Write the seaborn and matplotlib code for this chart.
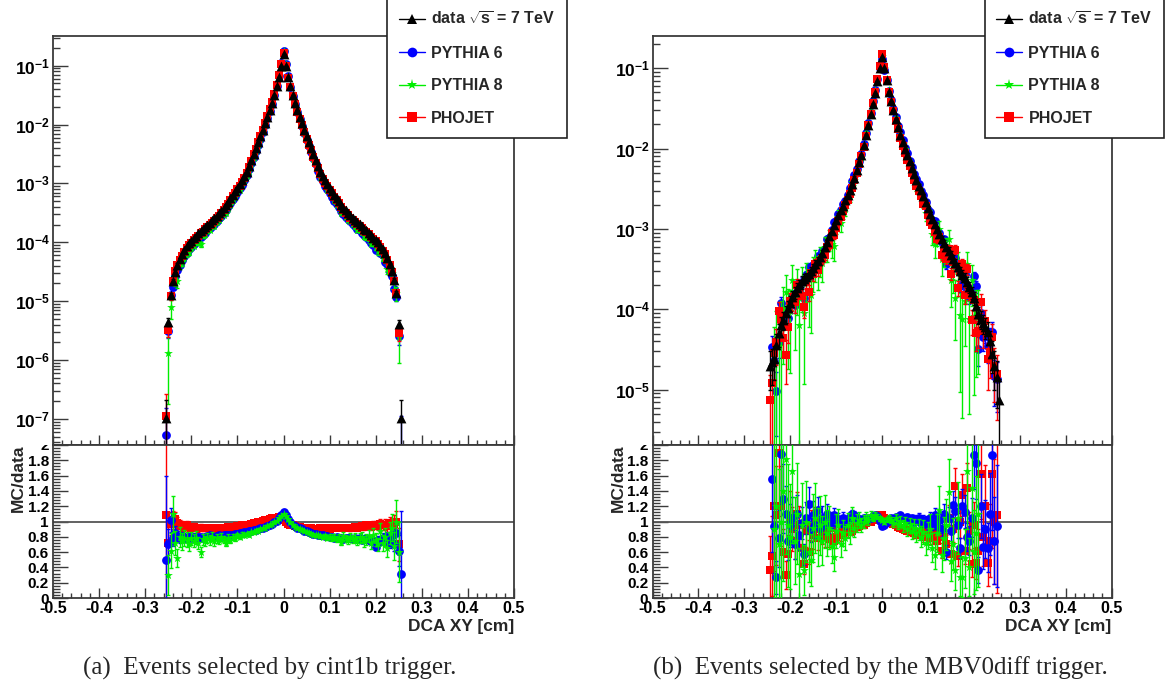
import numpy as np
import matplotlib
matplotlib.use("Agg")
import matplotlib.pyplot as plt
from matplotlib.ticker import MultipleLocator, FuncFormatter, LogLocator, NullFormatter
from matplotlib.lines import Line2D
from matplotlib.transforms import Bbox, TransformedBbox
import seaborn as sns

# ---------------- data ----------------
# DCA XY bin centres [cm]
bin_index = np.arange(-51, 52)
bin_centers = np.round(bin_index * 0.005, 3)

series = ["data", "PYTHIA 6", "PYTHIA 8", "PHOJET"]
legend_labels = [r"data $\mathbf{\sqrt{s}}$ = 7 TeV", "PYTHIA 6", "PYTHIA 8", "PHOJET"]
nan = float("nan")

# (a) cint1b: log10 of normalised data distribution
a_data_log10 = [
    -6.98, -5.35, -4.90, -4.66, -4.50, -4.38, -4.28, -4.20, -4.13, -4.07,
    -4.01, -3.97, -3.93, -3.89, -3.85, -3.81, -3.78, -3.74, -3.70, -3.67,
    -3.63, -3.59, -3.55, -3.51, -3.47, -3.42, -3.36, -3.31, -3.25, -3.19,
    -3.13, -3.07, -3.01, -2.95, -2.88, -2.80, -2.70, -2.60, -2.50, -2.40,
    -2.30, -2.20, -2.09, -1.98, -1.87, -1.75, -1.63, -1.50, -1.35, -1.19,
    -1.00,
    -0.80,
    -1.00, -1.19, -1.35, -1.50, -1.63, -1.75, -1.87, -1.98, -2.09, -2.20,
    -2.30, -2.40, -2.50, -2.60, -2.70, -2.80, -2.88, -2.95, -3.01, -3.07,
    -3.13, -3.19, -3.25, -3.30, -3.36, -3.41, -3.46, -3.50, -3.54, -3.58,
    -3.62, -3.66, -3.69, -3.73, -3.77, -3.80, -3.84, -3.88, -3.92, -3.96,
    -4.00, -4.06, -4.12, -4.19, -4.27, -4.37, -4.49, -4.64, -4.86, -5.39,
    -6.98,
]
a_ratio_pythia6 = [
    0.50, 0.70, 1.02, 0.78, 0.85, 0.80, 0.78, 0.80, 0.79, 0.78,
    0.80, 0.79, 0.80, 0.79, 0.80, 0.80, 0.79, 0.80, 0.81, 0.82,
    0.81, 0.80, 0.81, 0.82, 0.81, 0.82, 0.82, 0.83, 0.82, 0.83,
    0.84, 0.84, 0.85, 0.85, 0.86, 0.86, 0.87, 0.88, 0.89, 0.89,
    0.90, 0.91, 0.92, 0.93, 0.94, 0.96, 0.97, 0.99, 1.01, 1.04,
    1.09,
    1.13,
    1.08, 1.03, 0.99, 0.96, 0.94, 0.92, 0.91, 0.90, 0.88, 0.87,
    0.86, 0.85, 0.84, 0.84, 0.83, 0.82, 0.82, 0.81, 0.81, 0.80,
    0.80, 0.79, 0.80, 0.79, 0.78, 0.77, 0.78, 0.78, 0.79, 0.77,
    0.78, 0.77, 0.78, 0.76, 0.77, 0.78, 0.76, 0.74, 0.75, 0.67,
    0.76, 0.74, 0.79, 0.73, 0.80, 0.72, 0.82, 0.70, 0.85, 0.62,
    0.31,
]
a_ratio_pythia8 = [
    nan, 0.30, 0.62, 1.10, 0.72, 0.52, 0.80, 0.74, 0.78, 0.76,
    0.70, 0.78, 0.75, 0.79, 0.72, 0.60, 0.77, 0.75, 0.79, 0.76,
    0.80, 0.74, 0.78, 0.76, 0.80, 0.77, 0.72, 0.79, 0.76, 0.80,
    0.78, 0.82, 0.80, 0.83, 0.82, 0.84, 0.83, 0.86, 0.86, 0.88,
    0.88, 0.90, 0.91, 0.92, 0.94, 0.95, 0.97, 0.99, 1.01, 1.04,
    1.07,
    1.10,
    1.07, 1.03, 0.99, 0.96, 0.93, 0.91, 0.90, 0.89, 0.87, 0.86,
    0.85, 0.84, 0.83, 0.82, 0.82, 0.81, 0.80, 0.81, 0.79, 0.80,
    0.78, 0.80, 0.77, 0.79, 0.73, 0.81, 0.78, 0.76, 0.80, 0.77,
    0.79, 0.75, 0.78, 0.80, 0.74, 0.77, 0.81, 0.72, 0.83, 0.76,
    0.70, 0.88, 0.72, 0.80, 0.65, 0.85, 0.92, 0.68, 1.00, 0.60,
    nan,
]
a_ratio_phojet = [
    1.08, 0.72, 0.97, 1.02, 1.03, 0.98, 0.95, 0.94, 0.93, 0.95,
    0.93, 0.92, 0.93, 0.92, 0.91, 0.92, 0.91, 0.91, 0.92, 0.91,
    0.91, 0.90, 0.91, 0.92, 0.91, 0.92, 0.92, 0.93, 0.92, 0.93,
    0.93, 0.94, 0.94, 0.95, 0.95, 0.96, 0.96, 0.97, 0.98, 0.98,
    0.99, 1.00, 1.01, 1.02, 1.02, 1.03, 1.04, 1.05, 1.05, 1.06,
    1.05,
    1.02,
    0.99, 0.97, 0.96, 0.95, 0.94, 0.93, 0.93, 0.92, 0.92, 0.91,
    0.91, 0.91, 0.90, 0.90, 0.90, 0.91, 0.90, 0.90, 0.91, 0.90,
    0.91, 0.91, 0.92, 0.91, 0.92, 0.91, 0.92, 0.92, 0.91, 0.92,
    0.93, 0.92, 0.93, 0.94, 0.93, 0.95, 0.94, 0.93, 0.96, 0.95,
    0.94, 0.97, 0.95, 0.96, 0.94, 0.98, 0.95, 0.97, 0.99, 0.70,
    nan,
]
# effective number of entries per unit of normalised yield (sets the stat. error bars)
a_entries = {"data": 1.0e7, "PYTHIA 6": 5.0e6, "PYTHIA 8": 1.0e6, "PHOJET": 5.0e6}

# (b) MBV0diff
b_data_log10 = [
    nan, nan, -4.70, -4.66, -4.62, -4.45, -4.30, -4.20, -4.13, -4.05,
    -3.98, -3.92, -3.85, -3.79, -3.74, -3.70, -3.65, -3.62, -3.60, -3.56,
    -3.52, -3.48, -3.44, -3.40, -3.35, -3.30, -3.23, -3.16, -3.09, -3.02,
    -2.95, -2.89, -2.83, -2.77, -2.71, -2.64, -2.58, -2.52, -2.44, -2.36,
    -2.27, -2.17, -2.08, -1.96, -1.83, -1.70, -1.57, -1.44, -1.31, -1.16,
    -1.00,
    -0.86,
    -1.00, -1.15, -1.29, -1.41, -1.52, -1.63, -1.73, -1.83, -1.92, -2.00,
    -2.08, -2.16, -2.24, -2.32, -2.39, -2.46, -2.52, -2.59, -2.66, -2.74,
    -2.81, -2.88, -2.94, -3.00, -3.06, -3.12, -3.17, -3.22, -3.27, -3.32,
    -3.37, -3.42, -3.47, -3.52, -3.57, -3.61, -3.66, -3.72, -3.79, -3.86,
    -3.96, -4.06, -4.12, -4.17, -4.22, -4.28, -4.40, -4.55, -4.70, -4.84,
    -5.13,
]
b_ratio_pythia6 = [
    nan, nan, nan, 1.56, 0.94, 0.27, 0.78, 1.88, 1.30, 1.10,
    0.75, 0.95, 1.05, 0.70, 1.10, 0.82, 0.98, 0.57, 1.05, 1.23,
    0.90, 1.08, 0.95, 1.15, 0.92, 1.05, 0.97, 1.10, 0.96, 1.02,
    1.08, 0.98, 1.03, 1.00, 1.05, 0.97, 1.02, 1.06, 1.10, 1.08,
    1.05, 1.03, 1.02, 1.04, 1.05, 1.03, 1.04, 1.07, 1.08, 1.07,
    1.01,
    0.94,
    0.96, 1.00, 1.02, 1.05, 1.03, 1.06, 1.04, 1.08, 1.05, 1.03,
    1.06, 1.02, 1.04, 1.00, 1.03, 1.05, 0.98, 1.02, 1.00, 0.96,
    1.04, 0.98, 1.08, 0.94, 1.02, 0.90, 1.10, 0.60, 1.05, 0.88,
    1.22, 1.14, 0.95, 0.65, 1.20, 1.13, 0.80, 0.75, 1.05, 1.87,
    1.76, 0.37, 1.20, 0.67, 0.90, 0.66, 1.10, 1.87, 0.75, 0.94,
    nan,
]
b_ratio_pythia8 = [
    nan, nan, nan, nan, 0.90, 1.20, 0.70, 1.00, 1.40, 1.82,
    0.95, 0.80, 1.66, 0.75, 1.10, 0.32, 0.95, 0.37, 1.00, 0.60,
    0.50, 0.92, 1.05, 0.80, 0.95, 0.75, 1.00, 0.85, 0.92, 0.68,
    0.54, 0.88, 0.95, 0.70, 0.85, 0.78, 0.95, 0.85, 1.05, 0.92,
    0.98, 1.02, 0.95, 1.00, 1.05, 1.02, 1.08, 1.05, 1.08, 1.06,
    1.04,
    1.02,
    1.00, 1.03, 1.05, 1.02, 0.98, 1.04, 0.96, 1.00, 0.94, 0.98,
    0.90, 0.95, 0.88, 0.92, 0.85, 0.90, 0.80, 0.86, 0.72, 0.82,
    0.90, 0.66, 0.56, 0.85, 1.15, 0.56, 0.78, 0.96, 1.38, 0.48,
    0.70, 0.36, 1.05, 0.28, 0.28, 0.52, 1.66, 0.40, 1.44, 0.60,
    0.85, 1.10, nan, nan, nan, nan, nan, nan, nan, nan,
    nan,
]
b_ratio_phojet = [
    nan, nan, 0.37, 0.55, 1.20, 1.08, 1.90, 1.20, 0.60, 0.30,
    0.58, 1.05, 0.90, 0.75, 1.10, 0.95, 0.65, 0.45, 0.88, 0.60,
    0.95, 0.82, 1.00, 0.78, 0.90, 0.85, 0.80, 0.86, 0.78, 0.92,
    0.75, 0.80, 0.84, 0.82, 0.86, 0.88, 0.86, 0.90, 0.88, 0.92,
    0.93, 0.94, 0.96, 0.95, 0.98, 0.99, 1.00, 1.02, 1.04, 1.06,
    1.08,
    1.09,
    1.05, 1.02, 1.00, 0.98, 0.97, 0.95, 0.93, 0.92, 0.90, 0.89,
    0.87, 0.88, 0.86, 0.85, 0.83, 0.86, 0.84, 0.80, 0.88, 0.82,
    0.78, 0.85, 0.80, 0.74, 0.90, 0.62, 0.80, 0.70, 1.05, 0.58,
    0.90, 1.46, 0.55, 1.00, 1.35, 0.62, 1.44, 0.88, 0.45, 0.95,
    0.46, 0.62, 1.62, 0.80, 1.20, 0.46, 0.75, 1.62, 1.00, 1.08,
    nan,
]
b_entries = {"data": 2.0e5, "PYTHIA 6": 2.0e5, "PYTHIA 8": 1.5e4, "PHOJET": 1.2e5}

captions = ["(a)  Events selected by cint1b trigger.",
            "(b)  Events selected by the MBV0diff trigger."]

# ---------------- style ----------------
sns.set_theme(style="ticks")
plt.rcParams["font.family"] = ["Liberation Sans", "DejaVu Sans"]
plt.rcParams["font.weight"] = "bold"
plt.rcParams["mathtext.fontset"] = "custom"
plt.rcParams["mathtext.rm"] = "Liberation Sans:bold"
plt.rcParams["mathtext.bf"] = "Liberation Sans:bold"
plt.rcParams["mathtext.it"] = "Liberation Sans:bold"
plt.rcParams["axes.unicode_minus"] = False

colors = {"data": "#000000", "PYTHIA 6": "#0000ff", "PYTHIA 8": "#00ee00", "PHOJET": "#ff0000"}
markers = {"data": "^", "PYTHIA 6": "o", "PYTHIA 8": "*", "PHOJET": "s"}
msize = {"data": 50, "PYTHIA 6": 40, "PYTHIA 8": 44, "PHOJET": 38}
frame_col = "#3a3a3a"

W, H = 1166, 691
fig = plt.figure(figsize=(W / 100, H / 100), dpi=100)
fig.patch.set_facecolor("white")

def fx(px):
    return px / W

def fy(py):
    return 1 - py / H

panels = [
    dict(x0=53, x1=514, data=a_data_log10,
         ratios={"PYTHIA 6": a_ratio_pythia6, "PYTHIA 8": a_ratio_pythia8, "PHOJET": a_ratio_phojet},
         entries=a_entries, ylim=(3.6e-8, 0.319), cap_x=270),
    dict(x0=652.5, x1=1111.5, data=b_data_log10,
         ratios={"PYTHIA 6": b_ratio_pythia6, "PYTHIA 8": b_ratio_pythia8, "PHOJET": b_ratio_phojet},
         entries=b_entries, ylim=(2.05e-6, 0.252), cap_x=880),
]

y_top, y_mid, y_bot = 36, 445, 598
log_fmt = FuncFormatter(lambda v, p: r"$\mathbf{10^{%d}}$" % int(round(np.log10(v))))
lin_fmt = FuncFormatter(lambda v, p: "%g" % round(v, 3) if abs(v) > 1e-9 else "0")

for k, P in enumerate(panels):
    for arr in [P["data"]] + list(P["ratios"].values()):
        assert len(arr) == len(bin_centers), len(arr)
    ax_t = fig.add_axes([fx(P["x0"]), fy(y_mid), fx(P["x1"] - P["x0"]), (y_mid - y_top) / H])
    ax_b = fig.add_axes([fx(P["x0"]), fy(y_bot), fx(P["x1"] - P["x0"]), (y_bot - y_mid) / H])
    x = bin_centers
    data = 10.0 ** np.array(P["data"], dtype=float)
    vals = {"data": data}
    for name in ["PYTHIA 6", "PYTHIA 8", "PHOJET"]:
        vals[name] = data * np.array(P["ratios"][name], dtype=float)

    ax_t.set_yscale("log")
    ax_t.set_xlim(-0.5, 0.5)
    ax_t.set_ylim(*P["ylim"])
    z = 2
    for name in ["PYTHIA 6", "PYTHIA 8", "PHOJET", "data"]:
        v = vals[name]
        m = np.isfinite(v)
        err = np.sqrt(v / P["entries"][name])
        ax_t.errorbar(x[m], v[m], yerr=err[m], fmt="none", ecolor=colors[name],
                      elinewidth=1.0, capsize=1.5, capthick=1.0, zorder=z)
        sns.scatterplot(x=x[m], y=v[m], ax=ax_t, marker=markers[name], color=colors[name],
                        s=msize[name], linewidth=0, zorder=z + 0.5, legend=False)
        z += 1

    ax_b.set_xlim(-0.5, 0.5)
    ax_b.set_ylim(0, 2)
    ax_b.axhline(1.0, color="#555555", lw=1.3, zorder=1)
    z = 2
    for name in ["PHOJET", "PYTHIA 6", "PYTHIA 8"]:
        r = np.array(P["ratios"][name], dtype=float)
        mc = vals[name]
        m = np.isfinite(r) & np.isfinite(data)
        rerr = r * np.sqrt(1.0 / (mc * P["entries"][name]) + 1.0 / (data * P["entries"]["data"]))
        ax_b.errorbar(x[m], r[m], yerr=rerr[m], fmt="none", ecolor=colors[name],
                      elinewidth=1.0, capsize=1.5, capthick=1.0, zorder=z)
        sns.scatterplot(x=x[m], y=r[m], ax=ax_b, marker=markers[name], color=colors[name],
                        s=msize[name], linewidth=0, zorder=z + 0.5, legend=False)
        z += 1

    # axes styling (ROOT-like)
    for ax in (ax_t, ax_b):
        ax.set_facecolor("white")
        for sp in ax.spines.values():
            sp.set_color(frame_col)
            sp.set_linewidth(1.3)
            sp.set_visible(True)
        ax.xaxis.set_major_locator(MultipleLocator(0.1))
        ax.xaxis.set_minor_locator(MultipleLocator(0.02))
        ax.tick_params(axis="both", which="both", direction="in", top=False, right=False,
                       color=frame_col, labelcolor="black")
        ax.tick_params(axis="x", which="major", length=7, width=1.0, labelsize=11.5)
        ax.tick_params(axis="x", which="minor", length=3.5, width=1.0)
        ax.tick_params(axis="y", which="major", length=10.5, width=1.0, pad=3, labelsize=11)
        ax.tick_params(axis="y", which="minor", length=5, width=1.0)
        ax.set_xlabel("")
        ax.set_ylabel("")
    ax_t.tick_params(axis="x", which="both", labelbottom=False)
    ax_t.tick_params(axis="y", which="major", labelsize=12.5, pad=2)
    ax_t.yaxis.set_major_locator(LogLocator(base=10, numticks=20))
    ax_t.yaxis.set_minor_locator(LogLocator(base=10, subs=np.arange(2, 10), numticks=20))
    ax_t.yaxis.set_major_formatter(log_fmt)
    ax_t.yaxis.set_minor_formatter(NullFormatter())
    ax_t.set_ylim(*P["ylim"])

    ax_b.yaxis.set_major_locator(MultipleLocator(0.2))
    ax_b.yaxis.set_minor_locator(MultipleLocator(0.04))
    ax_b.yaxis.set_major_formatter(lin_fmt)
    ax_b.xaxis.set_major_formatter(lin_fmt)
    ax_b.tick_params(axis="x", which="major", pad=2)
    ax_b.set_ylabel("MC/data", fontsize=12.5, fontweight="bold", loc="top")
    ax_b.yaxis.set_label_coords(-0.058, 1.0)
    ax_b.set_xlabel("DCA XY [cm]", fontsize=12.5, fontweight="bold", loc="right")
    ax_b.xaxis.set_label_coords(1.0, -0.135)

    # clip the top "2" of the ratio axis at the pad boundary, as in the original
    clip = TransformedBbox(Bbox([[0, 0], [1, fy(y_mid)]]), fig.transFigure)
    for t in ax_b.yaxis.get_major_ticks():
        t.label1.set_clip_on(True)
        t.label1.set_clip_box(clip)

    # legend box (overlapping the frame top-right)
    handles = [Line2D([0], [0], color=colors[s], marker=markers[s], lw=1.0,
                      markersize=7 if s != "PYTHIA 8" else 8, markeredgewidth=0) for s in series]
    fig.legend(handles, legend_labels, loc="upper left",
               bbox_to_anchor=(fx(P["x1"] - 127), fy(-1)),
               frameon=True, fancybox=False, framealpha=1.0, edgecolor="#222222",
               prop={"weight": "bold", "size": 11.5}, handlelength=1.6, handletextpad=0.4,
               borderpad=0.75, labelspacing=1.1, borderaxespad=0.0)
    fig.legends[-1].get_frame().set_linewidth(1.2)

    fig.text(fx(P["cap_x"]), fy(668), captions[k], ha="center", va="center",
             family="Liberation Serif", fontweight="normal", fontsize=18)

fig.savefig("out.png", dpi=100, facecolor="white")
